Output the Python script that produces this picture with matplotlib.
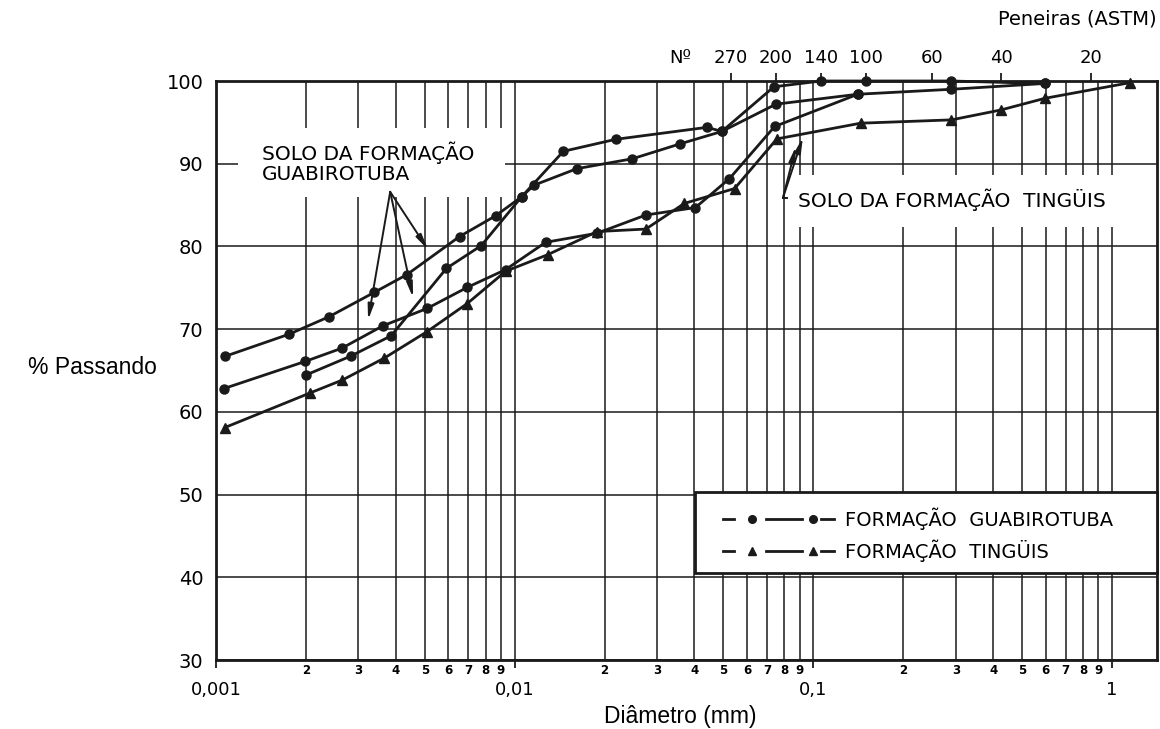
import numpy as np
import matplotlib
matplotlib.use('Agg')
import matplotlib.pyplot as plt
from matplotlib.patches import Rectangle
from matplotlib.ticker import FixedLocator, FuncFormatter, NullLocator

# ---------------- data ----------------
# Formação Guabirotuba - curve 1 (gradual)
g1_d = [0.00107, 0.00176, 0.00239, 0.00339, 0.00436, 0.00654, 0.00863, 0.01055,
        0.0116, 0.01615, 0.0248, 0.0358, 0.0494, 0.075, 0.141, 0.29, 0.595]
g1_p = [66.7, 69.4, 71.5, 74.45, 76.6, 81.2, 83.7, 86.0,
        87.4, 89.4, 90.6, 92.4, 93.9, 97.2, 98.4, 99.0, 99.7]
# Formação Guabirotuba - curve 2 (S-shaped)
g2_d = [0.0020, 0.00283, 0.00386, 0.00591, 0.00773, 0.01055, 0.01456, 0.0218,
        0.0441, 0.0494, 0.0738, 0.106, 0.15, 0.29, 0.595]
g2_p = [64.45, 66.75, 69.2, 77.35, 80.1, 86.0, 91.5, 92.95,
        94.4, 93.9, 99.3, 100.0, 100.0, 100.0, 99.7]
# Formação Guabirotuba - curve 3
g3_d = [0.00106, 0.00199, 0.00264, 0.00362, 0.00509, 0.00694, 0.00933, 0.0127,
        0.0189, 0.0275, 0.0403, 0.0524, 0.0742, 0.141]
g3_p = [62.8, 66.1, 67.7, 70.4, 72.5, 75.05, 77.2, 80.5,
        81.6, 83.8, 84.7, 88.2, 94.5, 98.4]
# Formação Tingüis
t1_d = [0.00107, 0.00207, 0.00265, 0.00366, 0.00509, 0.00694, 0.00933, 0.0129,
        0.0189, 0.0275, 0.037, 0.0545, 0.0755, 0.144, 0.29, 0.425, 0.595, 1.15]
t1_p = [58.1, 62.3, 63.85, 66.5, 69.7, 73.1, 77.0, 79.0,
        81.8, 82.1, 85.2, 87.0, 93.0, 94.9, 95.3, 96.5, 97.9, 99.8]

# sieves (ASTM) - opening in mm and number
sieve_mm = [0.053, 0.075, 0.106, 0.150, 0.250, 0.425, 0.850]
sieve_no = ['270', '200', '140', '100', '60', '40', '20']

decade_ticks = [0.001, 0.01, 0.1, 1]
decade_labels = ['0,001', '0,01', '0,1', '1']
y_ticks = [30, 40, 50, 60, 70, 80, 90, 100]

# ---------------- figure ----------------
W, H = 1160, 729
fig = plt.figure(figsize=(W / 100, H / 100), dpi=100)
L, R, T, B = 216, 1157, 81, 660
ax = fig.add_axes([L / W, 1 - B / H, (R - L) / W, (B - T) / H])
ax.set_xscale('log')
ax.set_xlim(0.001, 1.415)
ax.set_ylim(30, 100)

LINE = '#1a1a1a'
TECH = 'DejaVu Sans'

# ticks / grid
minor = [m * d for d in decade_ticks for m in range(2, 10) if m * d < 1.415]
ax.xaxis.set_major_locator(FixedLocator(decade_ticks))
ax.xaxis.set_major_formatter(FuncFormatter(
    lambda v, p: decade_labels[decade_ticks.index(v)] if v in decade_ticks else ''))
ax.xaxis.set_minor_locator(FixedLocator(minor))
ax.xaxis.set_minor_formatter(FuncFormatter(
    lambda v, p: str(int(round(v / 10 ** np.floor(np.log10(v) + 1e-9))))))
ax.set_yticks(y_ticks)
ax.set_yticklabels([str(v) for v in y_ticks])

ax.tick_params(axis='x', which='major', direction='out', length=6, width=1.3,
               pad=9, labelsize=13, color=LINE)
ax.tick_params(axis='x', which='minor', length=0, pad=3, labelsize=8.5)
for lab in ax.xaxis.get_minorticklabels():
    lab.set_fontweight('bold')
ax.tick_params(axis='y', length=0, pad=9, labelsize=14)
for lab in ax.get_xticklabels() + ax.get_yticklabels():
    lab.set_family(TECH)

ax.set_axisbelow(True)
ax.grid(True, which='both', axis='x', color=LINE, lw=1.1)
ax.grid(True, which='major', axis='y', color=LINE, lw=1.1)
for s in ax.spines.values():
    s.set_linewidth(2)
    s.set_color(LINE)

# white areas behind annotations
def axfrac_x(px):
    return (px - L) / (R - L)

def axfrac_y(py):
    return (B - py) / (B - T)

ax.add_patch(Rectangle((axfrac_x(238), axfrac_y(197)), axfrac_x(505) - axfrac_x(238),
                       axfrac_y(128) - axfrac_y(197), transform=ax.transAxes,
                       facecolor='white', edgecolor='none', zorder=1))
ax.add_patch(Rectangle((axfrac_x(790), axfrac_y(227)), 1 - axfrac_x(790),
                       axfrac_y(175) - axfrac_y(227), transform=ax.transAxes,
                       facecolor='white', edgecolor='none', zorder=1))

# curves
common = dict(color=LINE, lw=2, markersize=6.5, clip_on=False, zorder=3)
ax.plot(g1_d, g1_p, marker='o', **common)
ax.plot(g2_d, g2_p, marker='o', **common)
ax.plot(g3_d, g3_p, marker='o', **common)
ax.plot(t1_d, t1_p, marker='^', **common)

# annotations
ax.text(axfrac_x(262), axfrac_y(142), 'SOLO DA FORMAÇÃO\nGUABIROTUBA', transform=ax.transAxes,
        ha='left', va='top', fontsize=14.5, family=TECH, linespacing=1.0, zorder=4)
arrow_kw = dict(arrowstyle='-|>,head_length=0.9,head_width=0.18', color=LINE, lw=1.4,
                shrinkA=0, shrinkB=0, mutation_scale=10)
g_start = (0.00383, 86.6)
for tip in [(0.00323, 71.1), (0.00457, 73.8), (0.00513, 79.6)]:
    ax.annotate('', xy=tip, xytext=g_start, arrowprops=arrow_kw, zorder=4)

ax.text(axfrac_x(798), axfrac_y(200), 'SOLO DA FORMAÇÃO  TINGÜIS', transform=ax.transAxes,
        ha='left', va='center', fontsize=14.5, family=TECH, zorder=4)
t_start = (0.0791, 85.85)
for tip in [(0.0875, 92.1), (0.0923, 93.2)]:
    ax.annotate('', xy=tip, xytext=t_start, arrowprops=arrow_kw, zorder=4)
ax.plot([0.0791, 0.0815], [85.85, 85.85], color=LINE, lw=1.4, zorder=4)

# legend box (manual, matching the drawing)
ax.add_patch(Rectangle((axfrac_x(695), axfrac_y(573)), 1 - axfrac_x(695),
                       axfrac_y(492) - axfrac_y(573), transform=ax.transAxes,
                       facecolor='white', edgecolor=LINE, lw=2, zorder=5, clip_on=False))
for yy, mk, label in [(519, 'o', 'FORMAÇÃO  GUABIROTUBA'), (551, '^', 'FORMAÇÃO  TINGÜIS')]:
    ya = axfrac_y(yy)
    for x0, x1 in [(723, 734), (766, 802), (821, 834)]:
        ax.plot([axfrac_x(x0), axfrac_x(x1)], [ya, ya], transform=ax.transAxes,
                color=LINE, lw=2, zorder=6, clip_on=False)
    ax.plot([axfrac_x(752), axfrac_x(813)], [ya, ya], transform=ax.transAxes, ls='none',
            marker=mk, color=LINE, markersize=5.5, zorder=6, clip_on=False)
    ax.text(axfrac_x(845), ya, label, transform=ax.transAxes, ha='left', va='center',
            fontsize=14, family=TECH, zorder=6)

# top axis: ASTM sieves
top = ax.twiny()
top.set_xscale('log')
top.set_xlim(ax.get_xlim())
top.xaxis.set_major_locator(FixedLocator(sieve_mm))
top.xaxis.set_minor_locator(NullLocator())
top.set_xticklabels(sieve_no)
top.tick_params(axis='x', direction='out', length=6, width=1.3, pad=4, labelsize=13,
                color=LINE)
for lab in top.get_xticklabels():
    lab.set_family(TECH)
for s in top.spines.values():
    s.set_visible(False)
fig.text(680 / W, 1 - 58 / H, 'Nº', ha='center', va='center', fontsize=13, family=TECH)
fig.text(1157 / W, 1 - 19 / H, 'Peneiras (ASTM)', ha='right', va='center',
         fontsize=14, family=TECH)

# axis titles
fig.text(92 / W, 1 - 368 / H, '% Passando', ha='center', va='center', fontsize=16.5,
         family='Liberation Sans')
fig.text(680 / W, 1 - 717 / H, 'Diâmetro (mm)', ha='center', va='center', fontsize=16.5,
         family='Liberation Sans')

fig.savefig('out.png', dpi=100, facecolor='white')
